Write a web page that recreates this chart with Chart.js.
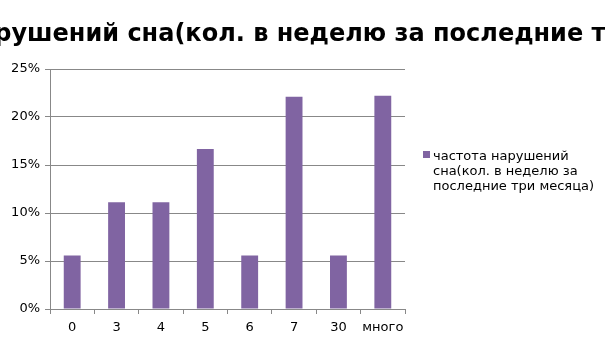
<!DOCTYPE html>
<html>
<head>
<meta charset="utf-8">
<script src="https://cdn.jsdelivr.net/npm/chart.js@4/dist/chart.umd.min.js"></script>
<style>
  html, body { margin: 0; padding: 0; background: #fff; }
  #wrap { width: 605px; height: 340px; }
</style>
</head>
<body>
<div id="wrap"><canvas id="chart"></canvas></div>
<script>
// data
var categories = ["0", "3", "4", "5", "6", "7", "30", "много"];
var values = [0.0556, 0.1111, 0.1111, 0.1667, 0.0556, 0.221, 0.0556, 0.2222];
var seriesName = "частота нарушений сна(кол. в неделю за последние три месяца)";
var legendLines = ["частота нарушений", "сна(кол. в неделю за", "последние три месяца)"];
var titleText = "частота нарушений сна(кол. в неделю за последние три месяца)";

var barColor = "#8064A2";
var gridColor = "#888888";
var font = "DejaVu Sans";

// title + legend drawn by hand (Excel style, title overflows the canvas)
var extras = {
    id: "extras",
    afterDraw: function (chart) {
        var ctx = chart.ctx;
        ctx.save();
        ctx.font = "bold 24px '" + font + "'";
        ctx.fillStyle = "#000";
        ctx.textAlign = "center";
        ctx.textBaseline = "alphabetic";
        ctx.fillText(titleText, 302, 41);

        ctx.fillStyle = barColor;
        ctx.fillRect(423, 151, 7, 7);
        ctx.font = "13px '" + font + "'";
        ctx.fillStyle = "#000";
        ctx.textAlign = "left";
        for (var i = 0; i < legendLines.length; i++) {
            ctx.fillText(legendLines[i], 433, 160 + i * 15);
        }
        ctx.restore();
    }
};

var graphTarget = document.getElementById("chart");
var barGraph = new Chart(graphTarget, {
    type: 'bar',
    data: {
        labels: categories,
        datasets: [
            {
                label: seriesName,
                data: values,
                backgroundColor: barColor,
                borderWidth: 0,
                barPercentage: 0.38,
                categoryPercentage: 1
            }
        ]
    },
    options: {
        responsive: true,
        maintainAspectRatio: false,
        animation: false,
        layout: {
            padding: { top: 69, right: 200, left: 0, bottom: 0 }
        },
        plugins: {
            legend: { display: false },
            title: { display: false },
            tooltip: { enabled: false }
        },
        scales: {
            x: {
                grid: {
                    offset: true,
                    drawOnChartArea: false,
                    color: gridColor,
                    tickLength: 5
                },
                border: { color: gridColor },
                ticks: {
                    color: "#000",
                    padding: 6,
                    maxRotation: 0,
                    minRotation: 0,
                    autoSkip: false,
                    font: { family: font, size: 13 }
                },
                afterFit: function (axis) { axis.height = 31; }
            },
            y: {
                min: 0,
                max: 0.25,
                grid: {
                    color: gridColor,
                    tickLength: 5
                },
                border: { color: gridColor },
                ticks: {
                    stepSize: 0.05,
                    color: "#000",
                    padding: 5,
                    font: { family: font, size: 13 },
                    callback: function (v) { return Math.round(v * 100) + "%"; }
                },
                afterFit: function (axis) { axis.width = 50; }
            }
        }
    },
    plugins: [extras]
});
</script>
</body>
</html>
